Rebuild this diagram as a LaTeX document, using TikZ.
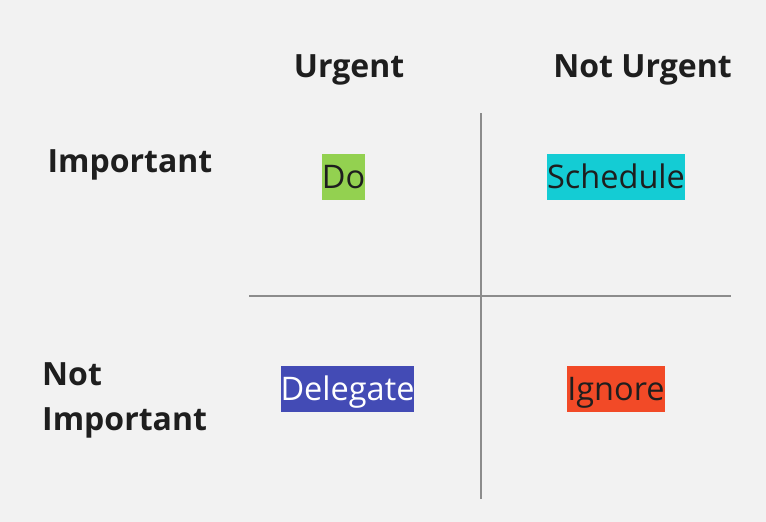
\documentclass[tikz,border=0pt]{standalone}
\usepackage{fontspec}
\setmainfont{Open Sans}
\definecolor{bg}{HTML}{F2F2F2}
\definecolor{gridline}{HTML}{8C8C8C}
\definecolor{txt}{HTML}{1E1E1E}
\definecolor{doc}{HTML}{93D150}
\definecolor{schedc}{HTML}{14CCD4}
\definecolor{delc}{HTML}{434BB5}
\definecolor{ignc}{HTML}{F24A27}
\tikzset{
  header/.style={font=\fontsize{32}{45}\selectfont\bfseries, text=txt, inner sep=0pt},
  tag/.style={font=\fontsize{32.5}{40}\selectfont, text=txt, inner xsep=0pt, inner ysep=0pt,
     minimum height=46pt, text height=34pt, text depth=12pt},
  axis/.style={draw=gridline, line width=2pt}
}
\begin{document}
\begin{tikzpicture}[x=1pt,y=-1pt]
\fill[bg] (0,0) rectangle (766,522);
\useasboundingbox (0,0) rectangle (766,522);
\coordinate (vtop) at (481,113);
\coordinate (vbot) at (481,499);
\coordinate (hleft) at (249,296);
\coordinate (hright) at (731,296);
\draw[axis] (vtop) -- (vbot);
\draw[axis] (hleft) -- (hright);
\node[header, anchor=base] (urg) at (349,77) {Urgent};
\node[header, anchor=base] (nurg) at (642.5,77) {Not Urgent};
\node[header, anchor=base] (imp) at (130,172) {Important};
\node[header, anchor=north west, align=left] (nimp) at (42,362) {Not\\Important};
\node[tag, fill=doc] (do) at (343.5,177) {Do};
\node[tag, fill=schedc] (sched) at (616,177) {Schedule};
\node[tag, fill=delc, text=white] (del) at (347.5,389) {Delegate};
\node[tag, fill=ignc] (ign) at (616,389) {Ignore};
\end{tikzpicture}
\end{document}
